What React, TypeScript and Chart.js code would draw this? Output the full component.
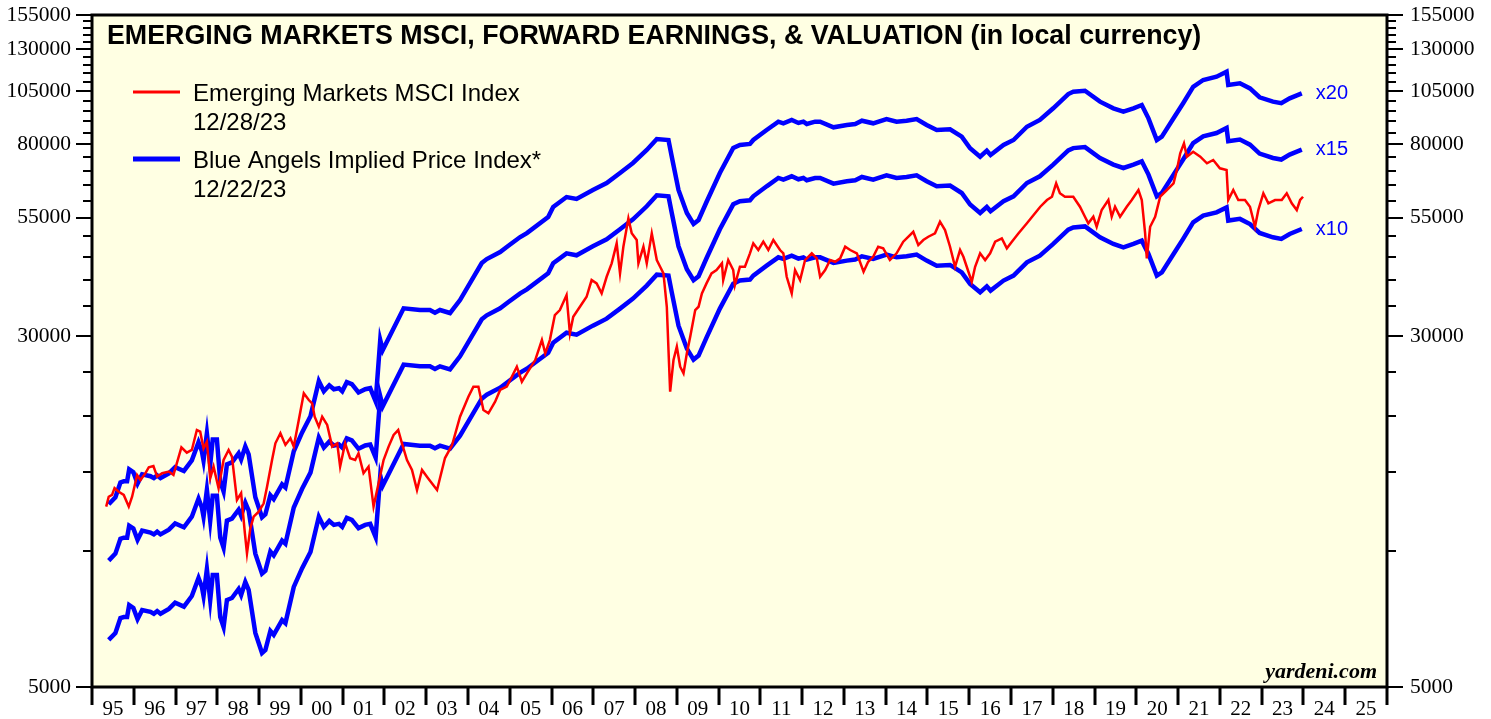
import React, { useEffect, useRef } from 'react';
import { Chart, registerables } from 'chart.js';

Chart.register(...registerables);

// ---------- DATA ----------
const msciYears = [
  1995.34, 1995.40, 1995.48, 1995.54, 1995.64, 1995.76, 1995.88, 1995.96, 1996.08, 1996.16,
  1996.28, 1996.36, 1996.47, 1996.56, 1996.68, 1996.84, 1996.95, 1997.03, 1997.14, 1997.27,
  1997.39, 1997.51, 1997.59, 1997.67, 1997.75, 1997.83, 1997.91, 1998.03, 1998.15, 1998.27,
  1998.35, 1998.47, 1998.57, 1998.66, 1998.71, 1998.79, 1998.87, 1998.99, 1999.11, 1999.19,
  1999.31, 1999.39, 1999.51, 1999.63, 1999.75, 1999.83, 1999.95, 2000.07, 2000.19, 2000.27,
  2000.33, 2000.43, 2000.51, 2000.63, 2000.75, 2000.87, 2000.94, 2001.06, 2001.18, 2001.30,
  2001.38, 2001.50, 2001.62, 2001.74, 2001.86, 2001.98, 2002.10, 2002.22, 2002.33, 2002.42,
  2002.54, 2002.66, 2002.78, 2002.90, 2003.04, 2003.26, 2003.45, 2003.62, 2003.81, 2004.01,
  2004.13, 2004.25, 2004.37, 2004.49, 2004.65, 2004.77, 2004.93, 2005.05, 2005.17, 2005.29,
  2005.41, 2005.61, 2005.77, 2005.85, 2005.96, 2006.08, 2006.20, 2006.36, 2006.44, 2006.52,
  2006.68, 2006.84, 2006.96, 2007.08, 2007.20, 2007.32, 2007.44, 2007.56, 2007.64, 2007.72,
  2007.84, 2007.92, 2008.04, 2008.08, 2008.20, 2008.28, 2008.40, 2008.52, 2008.60, 2008.68,
  2008.76, 2008.80, 2008.84, 2008.92, 2009.00, 2009.08, 2009.16, 2009.24, 2009.32, 2009.44,
  2009.52, 2009.60, 2009.71, 2009.83, 2009.95, 2010.08, 2010.11, 2010.23, 2010.35, 2010.39,
  2010.51, 2010.63, 2010.75, 2010.83, 2010.95, 2011.07, 2011.19, 2011.31, 2011.47, 2011.55,
  2011.63, 2011.75, 2011.83, 2011.95, 2012.07, 2012.23, 2012.35, 2012.43, 2012.55, 2012.67,
  2012.79, 2012.91, 2013.03, 2013.15, 2013.31, 2013.47, 2013.58, 2013.70, 2013.82, 2013.94,
  2014.10, 2014.26, 2014.42, 2014.66, 2014.78, 2014.90, 2015.02, 2015.18, 2015.30, 2015.42,
  2015.54, 2015.66, 2015.78, 2015.86, 2015.98, 2016.06, 2016.14, 2016.26, 2016.38, 2016.50,
  2016.62, 2016.78, 2016.90, 2017.02, 2017.18, 2017.38, 2017.54, 2017.70, 2017.86, 2017.98,
  2018.08, 2018.17, 2018.29, 2018.49, 2018.65, 2018.77, 2018.85, 2018.97, 2019.05, 2019.17,
  2019.33, 2019.41, 2019.49, 2019.61, 2019.77, 2019.89, 2020.05, 2020.13, 2020.21, 2020.25,
  2020.33, 2020.45, 2020.57, 2020.73, 2020.89, 2020.97, 2021.05, 2021.14, 2021.21, 2021.36,
  2021.53, 2021.69, 2021.84, 2022.00, 2022.16, 2022.20, 2022.32, 2022.44, 2022.60, 2022.72,
  2022.84, 2022.92, 2023.04, 2023.16, 2023.32, 2023.48, 2023.60, 2023.72, 2023.84, 2023.92,
  2023.99,
];
const msciValues = [
  12570, 13220, 13340, 13820, 13560, 13340, 12570, 13220, 14770, 14400,
  14910, 15370, 15470, 14650, 14910, 15030, 14770, 15680, 17020, 16560,
  16790, 18590, 18430, 16930, 17520, 14530, 15420, 13800, 15950, 16790,
  16220, 13000, 13460, 10960, 9900, 11250, 11940, 12250, 12780, 13910,
  15950, 17370, 18280, 17230, 17820, 17080, 19570, 22430, 21670, 21310,
  19900, 18900, 19900, 19080, 17080, 17370, 15420, 17370, 16090, 15950,
  16510, 14910, 15420, 12570, 14160, 15950, 17080, 18130, 18590, 17370,
  15950, 15160, 13680, 15160, 14550, 13680, 16110, 17220, 19900, 22040,
  23200, 23200, 20590, 20250, 21480, 22810, 23200, 24410, 25690, 23790,
  24840, 26580, 29440, 27510, 29440, 33450, 34320, 37050, 30470, 33160,
  34900, 36730, 40000, 39330, 37370, 40680, 43570, 48260, 41390, 47430,
  54840, 50790, 49080, 43570, 47430, 43570, 50790, 44310, 42810, 41390,
  34900, 27980, 22610, 26580, 28460, 25690, 24840, 27510, 29940, 34320,
  34900, 37370, 39330, 41390, 42100, 43570, 40000, 44310, 42100, 38990,
  42810, 42810, 45860, 48260, 46640, 48660, 46640, 49080, 46640, 45860,
  40680, 37370, 42100, 40000, 44310, 45860, 44700, 40680, 42100, 44310,
  43920, 44700, 47430, 46640, 45860, 41740, 43920, 45060, 47430, 47030,
  44310, 45860, 48660, 51200, 47840, 49080, 49910, 50790, 53900, 51650,
  47430, 42810, 46640, 45060, 41740, 39660, 42810, 45860, 44310, 45860,
  48660, 49510, 47050, 48660, 50790, 53460, 55770, 58190, 60220, 61240,
  65580, 62320, 61240, 61240, 58190, 55290, 53460, 55290, 52530, 57220,
  60220, 55290, 58190, 55290, 58190, 60220, 63380, 60220, 50790, 44700,
  52530, 55290, 61240, 63380, 65580, 70200, 76450, 80460, 75130, 77080,
  75130, 72650, 73880, 70810, 70200, 60220, 63380, 60220, 60220, 58190,
  52530, 57220, 62320, 59210, 60220, 60220, 62320, 59210, 57220, 60220,
  61240,
];

// Forward earnings (index points); the blue lines are these times a P/E multiple
const earnYears = [
  1995.40, 1995.56, 1995.68, 1995.76, 1995.84, 1995.89, 1995.99, 1996.09, 1996.20, 1996.40,
  1996.48, 1996.56, 1996.64, 1996.84, 1996.99, 1997.20, 1997.39, 1997.55, 1997.63, 1997.67,
  1997.75, 1997.83, 1997.89, 1997.99, 1998.07, 1998.15, 1998.23, 1998.35, 1998.51, 1998.57,
  1998.67, 1998.75, 1998.91, 1999.07, 1999.15, 1999.27, 1999.35, 1999.55, 1999.63, 1999.83,
  2000.03, 2000.23, 2000.43, 2000.55, 2000.68, 2000.79, 2000.91, 2000.99, 2001.10, 2001.22,
  2001.38, 2001.54, 2001.66, 2001.79, 2001.90, 2001.96, 2002.46, 2002.85, 2003.09, 2003.21,
  2003.33, 2003.57, 2003.81, 2004.33, 2004.45, 2004.77, 2004.96, 2005.25, 2005.41, 2005.92,
  2006.04, 2006.36, 2006.60, 2006.99, 2007.32, 2007.64, 2007.95, 2008.28, 2008.52, 2008.80,
  2008.88, 2009.04, 2009.24, 2009.40, 2009.52, 2009.71, 2010.03, 2010.35, 2010.51, 2010.75,
  2010.83, 2011.15, 2011.43, 2011.55, 2011.75, 2011.91, 2012.03, 2012.11, 2012.31, 2012.43,
  2012.75, 2013.07, 2013.27, 2013.43, 2013.70, 2014.02, 2014.26, 2014.50, 2014.74, 2014.98,
  2015.22, 2015.54, 2015.82, 2016.02, 2016.26, 2016.42, 2016.51, 2016.82, 2017.06, 2017.38,
  2017.69, 2018.01, 2018.37, 2018.49, 2018.77, 2019.13, 2019.45, 2019.69, 2019.93, 2020.13,
  2020.29, 2020.49, 2020.61, 2020.89, 2021.12, 2021.36, 2021.60, 2021.92, 2022.16, 2022.20,
  2022.48, 2022.72, 2022.95, 2023.27, 2023.47, 2023.67, 2023.96,
];
const fwdEarnings = [
  636, 659, 711, 715, 715, 760, 749, 707, 741, 734,
  727, 737, 727, 745, 769, 754, 796, 873, 834, 796,
  913, 780, 886, 886, 715, 679, 780, 788, 825, 800,
  855, 821, 659, 595, 604, 666, 653, 704, 693, 834,
  918, 997, 1193, 1133, 1168, 1145, 1151, 1133, 1187, 1175,
  1126, 1145, 1151, 1076, 1472, 1399, 1731, 1716, 1716, 1693,
  1716, 1690, 1806, 2182, 2227, 2308, 2380, 2492, 2543, 2760,
  2905, 3057, 3027, 3169, 3284, 3457, 3638, 3888, 4112, 4092,
  3751, 3169, 2818, 2664, 2719, 2981, 3457, 3927, 3990, 4010,
  4092, 4306, 4493, 4456, 4532, 4463, 4493, 4441, 4493, 4493,
  4366, 4418, 4441, 4516, 4456, 4555, 4493, 4516, 4555, 4418,
  4306, 4322, 4161, 3922, 3757, 3874, 3791, 3990, 4092, 4379,
  4532, 4811, 5174, 5234, 5262, 4977, 4811, 4728, 4811, 4893,
  4571, 4092, 4161, 4571, 4937, 5370, 5560, 5654, 5800, 5421,
  5468, 5326, 5090, 4977, 4937, 5063, 5192,
];
const peMultiples = [20, 15, 10];
const multipleLabels = ['x20', 'x15', 'x10'];

const yMajorTicks = [5000, 30000, 55000, 80000, 105000, 130000, 155000];
const yTickValues = [
  5000, 10000, 15000, 20000, 25000, 30000, 35000, 40000, 45000, 50000,
  55000, 60000, 65000, 70000, 75000, 80000, 85000, 90000, 95000, 100000,
  105000, 110000, 115000, 120000, 125000, 130000, 135000, 140000, 145000, 150000, 155000,
];
const firstYear = 1995;
const lastYear = 2026;
const yearLabels = [
  '95', '96', '97', '98', '99', '00', '01', '02', '03', '04', '05', '06', '07', '08', '09', '10',
  '11', '12', '13', '14', '15', '16', '17', '18', '19', '20', '21', '22', '23', '24', '25',
];

const titleText = 'EMERGING MARKETS MSCI, FORWARD EARNINGS, & VALUATION (in local currency)';
const legendItems = [
  { color: '#FF0000', width: 3, lines: ['Emerging Markets MSCI Index', '12/28/23'] },
  { color: '#0000FF', width: 5, lines: ['Blue Angels Implied Price Index*', '12/22/23'] },
];

// ---------- STYLE ----------
const RED = '#FF0000';
const BLUE = '#0000FF';
const PLOT_BG = '#FFFFE3';
const SANS = '"Liberation Sans", Arial, sans-serif';
const SERIF = '"Liberation Serif", "Times New Roman", serif';

const overlayPlugin = {
  id: 'overlay',
  beforeDraw(chart: any) {
    const { ctx, chartArea: a } = chart;
    ctx.save();
    ctx.fillStyle = '#FFFFFF';
    ctx.fillRect(0, 0, chart.width, chart.height);
    ctx.fillStyle = PLOT_BG;
    ctx.fillRect(a.left, a.top, a.right - a.left, a.bottom - a.top);
    ctx.restore();
  },
  afterDraw(chart: any) {
    const { ctx, chartArea: a, scales } = chart;
    const ys = scales.y;
    const xs = scales.x;
    ctx.save();
    ctx.strokeStyle = '#000';
    const seg = (x1: number, y1: number, x2: number, y2: number) => {
      ctx.beginPath();
      ctx.moveTo(x1, y1);
      ctx.lineTo(x2, y2);
      ctx.stroke();
    };
    // y ticks (both sides)
    ctx.lineWidth = 2;
    yTickValues.forEach((v) => {
      const py = Math.round(ys.getPixelForValue(v));
      const major = yMajorTicks.includes(v);
      const len = major ? 16 : 9;
      seg(a.left - len, py, a.left, py);
      seg(a.right, py, a.right + len, py);
    });
    // x ticks at year boundaries
    ctx.lineWidth = 3;
    for (let yr = firstYear; yr <= lastYear; yr++) {
      const px = Math.round(xs.getPixelForValue(yr));
      seg(px, a.bottom, px, a.bottom + 18);
    }
    // frame
    ctx.lineWidth = 3;
    ctx.strokeRect(a.left, a.top, a.right - a.left, a.bottom - a.top);

    // title
    ctx.fillStyle = '#000';
    ctx.textAlign = 'left';
    ctx.textBaseline = 'alphabetic';
    ctx.font = `bold 26.8px ${SANS}`;
    ctx.fillText(titleText, a.left + 15, 44);

    // legend
    ctx.font = `24px ${SANS}`;
    legendItems.forEach((item, i) => {
      const baseY = 101 + i * 67;
      ctx.strokeStyle = item.color;
      ctx.lineWidth = item.width;
      seg(133, baseY - 9, 180, baseY - 9);
      ctx.fillStyle = '#000';
      item.lines.forEach((t, j) => ctx.fillText(t, 193, baseY + j * 28.5));
    });

    // multiple labels at the end of each blue line
    ctx.fillStyle = BLUE;
    ctx.font = `20px ${SANS}`;
    ctx.textBaseline = 'middle';
    const lastIdx = fwdEarnings.length - 1;
    peMultiples.forEach((m, i) => {
      const px = xs.getPixelForValue(earnYears[lastIdx]);
      const py = ys.getPixelForValue(fwdEarnings[lastIdx] * m);
      ctx.fillText(multipleLabels[i], px + 14, py);
    });

    // source
    ctx.fillStyle = '#000';
    ctx.textAlign = 'right';
    ctx.textBaseline = 'alphabetic';
    ctx.font = `italic bold 22px ${SERIF}`;
    ctx.fillText('yardeni.com', a.right - 10, a.bottom - 9);
    ctx.restore();
  },
};

function makeYAxis(position: 'left' | 'right', width: number, padding: number) {
  return {
    type: 'logarithmic' as const,
    position,
    min: 5000,
    max: 155000,
    grid: { display: false, drawTicks: false },
    border: { display: false },
    afterBuildTicks: (s: any) => {
      s.ticks = yTickValues.map((v) => ({ value: v }));
    },
    afterFit: (s: any) => {
      s.width = width;
      s.paddingTop = 0;
      s.paddingBottom = 0;
    },
    ticks: {
      autoSkip: false,
      padding,
      color: '#000',
      font: { family: SERIF, size: 21.5 },
      callback: (v: any) => (yMajorTicks.includes(Number(v)) ? String(v) : ''),
    },
  };
}

export default function App() {
  const ref = useRef<HTMLCanvasElement>(null);
  useEffect(() => {
    document.body.style.margin = '0';
    const datasets: any[] = [
      {
        label: 'Emerging Markets MSCI Index',
        data: msciYears.map((x, i) => ({ x, y: msciValues[i] })),
        borderColor: RED,
        borderWidth: 2.5,
        pointRadius: 0,
        tension: 0,
        order: 0,
        yAxisID: 'y',
      },
      ...peMultiples.map((m, k) => ({
        label: `Blue Angels Implied Price Index ${multipleLabels[k]}`,
        data: earnYears.map((x, i) => ({ x, y: fwdEarnings[i] * m })),
        borderColor: BLUE,
        borderWidth: 4.5,
        pointRadius: 0,
        tension: 0,
        order: 1,
        yAxisID: 'y',
      })),
    ];
    const chart = new Chart(ref.current as HTMLCanvasElement, {
      type: 'line',
      data: { datasets },
      plugins: [overlayPlugin],
      options: {
        responsive: false,
        maintainAspectRatio: false,
        animation: false,
        devicePixelRatio: 1,
        layout: { padding: { top: 15, left: 0, right: 0, bottom: 0 } },
        plugins: { legend: { display: false }, tooltip: { enabled: false } },
        scales: {
          x: {
            type: 'linear',
            position: 'bottom',
            min: firstYear,
            max: lastYear,
            grid: { display: false, drawTicks: false },
            border: { display: false },
            afterBuildTicks: (s: any) => {
              s.ticks = yearLabels.map((_, i) => ({ value: firstYear + i + 0.5 }));
            },
            afterFit: (s: any) => {
              s.height = 32;
              s.paddingLeft = 0;
              s.paddingRight = 0;
            },
            ticks: {
              autoSkip: false,
              maxRotation: 0,
              minRotation: 0,
              padding: 10,
              color: '#000',
              font: { family: SERIF, size: 21 },
              callback: (_v: any, i: number) => yearLabels[i],
            },
          },
          y: makeYAxis('left', 92, 21),
          y2: makeYAxis('right', 104, 23),
        },
      } as any,
    });
    return () => chart.destroy();
  }, []);
  return (
    <canvas
      ref={ref}
      width={1491}
      height={719}
      style={{ display: 'block', width: 1491, height: 719 }}
    />
  );
}
